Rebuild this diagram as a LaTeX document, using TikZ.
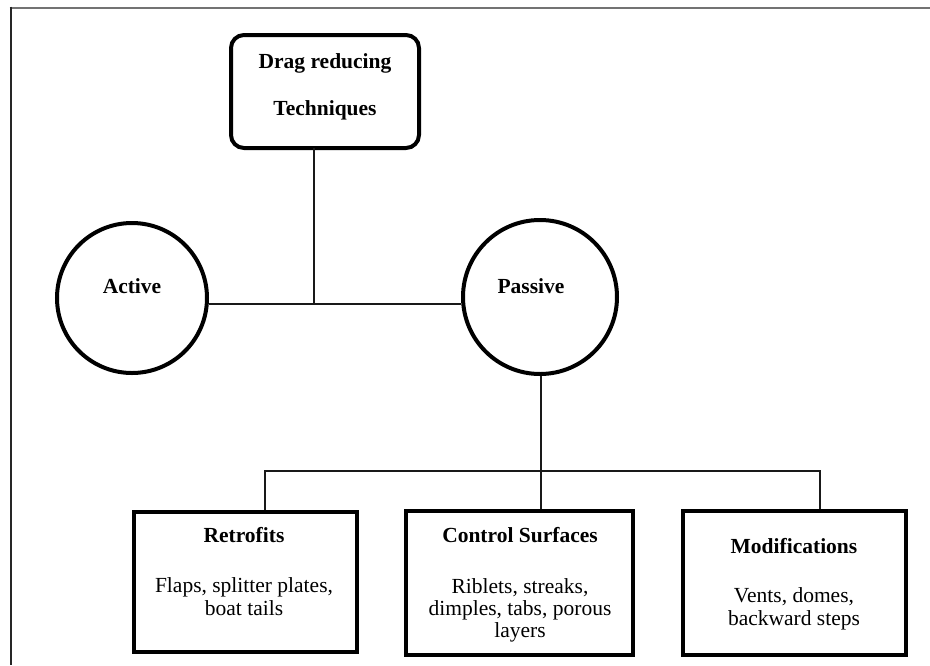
\documentclass[tikz,border=0pt]{standalone}
\usepackage{fontspec}
\setmainfont{Liberation Serif}
\begin{document}
\begin{tikzpicture}[x=1pt,y=-1pt,
  thickbox/.style={draw=black,line width=4pt,fill=white},
  conn/.style={draw=black!90,line width=1.4pt},
  lbl/.style={anchor=base,inner sep=0pt,font=\fontsize{21.5}{23}\selectfont\bfseries},
  body/.style={anchor=base,inner sep=0pt,font=\fontsize{21.5}{23}\selectfont}]
\useasboundingbox (0,0) rectangle (930,665);
\fill[white] (0,0) rectangle (930,665);
% page border
\draw[black!55,line width=2pt] (9.5,7.5) -- (930,7.5);
\draw[black!85,line width=2pt] (10.5,6.5) -- (10.5,665);
% top box
\draw[thickbox,rounded corners=13pt] (231,35) rectangle (419,148);
\node[lbl] (drag) at (325,68) {Drag reducing};
\node[lbl] (tech) at (325,115) {Techniques};
\coordinate (top) at (314,148);
% circles
\node[thickbox,circle,minimum size=150pt,inner sep=0pt] (act) at (132,298) {};
\node[lbl] (acttxt) at (132,293) {Active};
\node[thickbox,circle,minimum size=154pt,inner sep=0pt] (pas) at (540,297) {};
\node[lbl] (pastxt) at (531,293) {Passive};
\coordinate (junc) at (314,304);
\draw[conn] (top) -- (junc);
\draw[conn] (act.east |- junc) -- (pas.west |- junc);
% passive down
\coordinate (split) at (541,471);
\draw[conn] (pas.south -| split) -- (split);
% bottom boxes
\coordinate (b1) at (265,511);
\coordinate (b2) at (541,511);
\coordinate (b3) at (820,511);
\draw[conn] (b1) -- (b1 |- split) -- (b3 |- split) -- (b3);
\draw[conn] (split) -- (b2);
\draw[thickbox] (134,512) rectangle (357,652);
\draw[thickbox] (406,511) rectangle (633,655);
\draw[thickbox] (683,511) rectangle (906,655);
\node[lbl] (r1) at (244,542) {Retrofits};
\node[body] (r2) at (244,592) {Flaps, splitter plates,};
\node[body] (r3) at (244,615) {boat tails};
\node[lbl] (c1) at (520,542) {Control Surfaces};
\node[body] (c2) at (520,593) {Riblets, streaks,};
\node[body] (c3) at (520,615) {dimples, tabs, porous};
\node[body] (c4) at (520,637) {layers};
\node[lbl] (m1) at (794,553) {Modifications};
\node[body] (m2) at (794,602) {Vents, domes,};
\node[body] (m3) at (794,625) {backward steps};
\end{tikzpicture}
\end{document}
